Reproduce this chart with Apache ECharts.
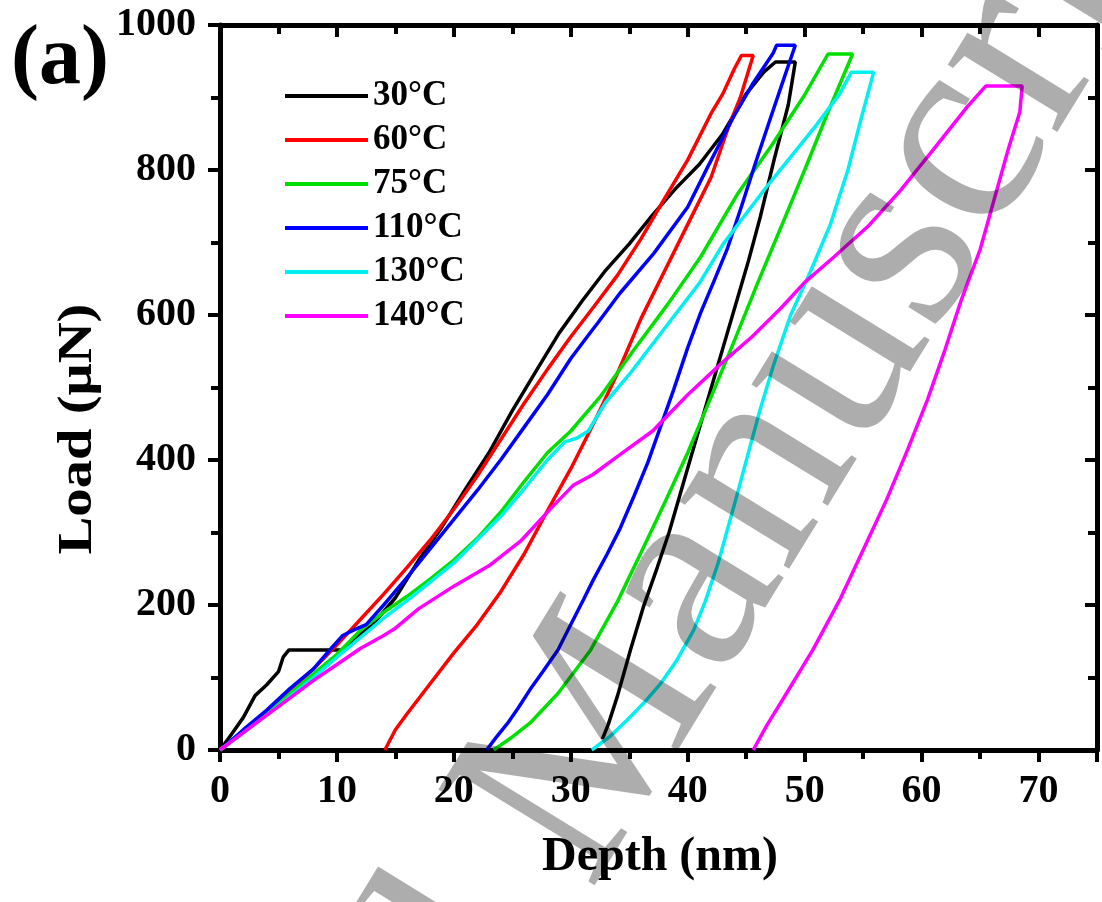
<!DOCTYPE html>
<html>
	<head>
		<meta charset="UTF-8">
		<title>Load-Depth</title>
		<script src="https://cdn.jsdelivr.net/npm/echarts@6/dist/echarts.min.js"></script>
		<style>
			body { margin: 0; background: #fff; }
		</style>
	</head>
	<body>
		<div id="main" style="width: 1102px;height:902px;"></div>

		<script type="text/javascript">
			var names = ['30°C', '60°C', '75°C', '110°C', '130°C', '140°C'];
			var colors = ['#000000', '#ff0000', '#00e000', '#0000ff', '#00f0f0', '#ff00ff'];

			// depth (nm) / load (uN), loading then hold then unloading
			var depth30 = [0, 1, 2, 3, 4, 5, 5.4, 5.9, 10.6, 11.7, 13, 15, 17, 19, 21, 23, 25, 27, 29, 31, 33, 35, 37, 39, 41, 43, 45, 46.5, 47.5, 49.2,
				48.6, 47.4, 46.2, 45.2, 44.2, 43.2, 42.2, 41.2, 40.2, 39.3, 38.4, 37.4, 36.2, 35.1, 34, 33.2, 32.7];
			var load30 = [0, 22, 45, 75, 90, 108, 128, 138, 138, 156, 172, 210, 262, 308, 360, 410, 468, 522, 575, 620, 662, 698, 738, 775, 808, 850, 905, 935, 949, 949,
				890, 815, 735, 675, 620, 565, 510, 455, 400, 350, 300, 252, 197, 138, 75, 35, 15];

			var depth60 = [0, 2, 4, 6, 8, 10, 12, 14, 16, 18, 20, 22, 24, 26, 28, 30, 32, 34, 36, 38, 40, 42, 43, 44, 44.6, 45.6,
				44.5, 43.5, 42, 40, 38, 36, 34, 32, 30, 28, 26, 24, 22, 20, 18, 16, 15, 14.1];
			var load60 = [0, 25, 52, 82, 112, 145, 180, 215, 252, 290, 332, 378, 428, 478, 525, 570, 612, 655, 705, 760, 814, 878, 905, 940, 958, 958,
				900, 860, 790, 725, 660, 595, 520, 452, 388, 330, 270, 218, 173, 134, 92, 50, 28, 0];

			var depth75 = [0, 2, 4, 6, 8, 10, 12, 14, 16, 18, 20, 22, 24, 26, 28, 30, 32.5, 35.4, 38.3, 41.1, 44.3, 47.1, 49.9, 52, 54.1,
				52, 50, 48, 46, 44, 42, 40, 38, 36, 34, 31.7, 28.9, 26.5, 25, 23.4];
			var load75 = [0, 24, 50, 78, 105, 132, 165, 190, 212, 236, 262, 292, 328, 370, 410, 440, 487, 552, 615, 680, 768, 832, 901, 960, 960,
				880, 800, 722, 645, 565, 487, 410, 340, 272, 205, 138, 78, 37, 18, 0];

			var depth110 = [0, 2, 4, 6, 8, 9.5, 10.5, 11.5, 12.5, 14, 16, 18, 20, 22, 24, 26, 28, 30, 31.4, 32.3, 34.2, 37.1, 40, 41.7, 43.9, 45.6, 47.3, 47.6, 49.2,
				48.2, 47, 45.8, 44.6, 43.4, 42.2, 41.1, 40, 38.8, 37.7, 36.6, 35.4, 34.2, 33.1, 31.9, 31.1, 30, 28.9, 27.6, 26.5, 25.5, 24.6, 23.6, 22.8];
			var load110 = [0, 28, 55, 85, 112, 140, 158, 166, 173, 200, 238, 278, 318, 358, 400, 445, 490, 540, 570, 589, 630, 685, 749, 804, 873, 920, 961, 972, 972,
				925, 868, 810, 750, 692, 645, 603, 555, 497, 447, 397, 350, 305, 270, 234, 208, 173, 138, 108, 83, 58, 37, 17, 0];

			var depth130 = [0, 2, 4, 6, 8, 10, 12, 14, 16, 18, 20, 22, 24, 26, 28, 29.5, 30.5, 31.5, 33, 35, 37, 39, 41, 43, 45, 47, 49, 51, 53, 54, 55.9,
				54.8, 53.7, 52.2, 50.5, 48.8, 47.3, 46.2, 45.1, 44.1, 42.6, 41.5, 40.5, 39, 37.7, 36.2, 34.8, 33.3, 31.8];
			var load130 = [0, 24, 48, 74, 100, 128, 155, 182, 206, 232, 258, 290, 322, 360, 400, 425, 430, 440, 480, 518, 560, 602, 644, 697, 740, 782, 822, 862, 905, 935, 935,
				869, 800, 725, 660, 600, 529, 470, 405, 345, 258, 205, 165, 122, 92, 64, 41, 18, 0];

			var depth140 = [0, 2, 4, 6, 8, 10, 12, 14, 15, 17, 20, 23, 25.7, 28.4, 30.2, 31.9, 34, 37, 40, 43, 45.5, 48, 50, 52.5, 55.4, 58.2, 61, 63.9, 65.5, 68.6,
				68.4, 67.4, 66.2, 65, 63.4, 62, 60.5, 58.8, 57, 55, 53, 50.7, 48.1, 46.8, 45.6];
			var load140 = [0, 24, 48, 72, 96, 118, 140, 158, 168, 195, 226, 254, 288, 335, 365, 380, 405, 440, 490, 535, 570, 610, 645, 680, 722, 772, 828, 887, 916, 916,
				880, 828, 759, 690, 621, 552, 483, 414, 345, 276, 207, 138, 69, 35, 0];

			var depths = [depth30, depth60, depth75, depth110, depth130, depth140];
			var loads = [load30, load60, load75, load110, load130, load140];

			var xTicks = [0, 10, 20, 30, 40, 50, 60, 70];
			var yTicks = [0, 200, 400, 600, 800, 1000];

			var serif = '"Liberation Serif", "Times New Roman", serif';

			function pairs(xs, ys) {
				var out = [];
				for(var i = 0; i < xs.length; i++) {
					out.push([xs[i], ys[i]]);
				}
				return out;
			}

			var series = [];
			for(var i = 0; i < names.length; i++) {
				series.push({
					name: names[i],
					type: 'line',
					xAxisIndex: 0,
					yAxisIndex: 0,
					data: pairs(depths[i], loads[i]),
					symbol: 'none',
					showSymbol: false,
					smooth: false,
					color: colors[i],
					lineStyle: { width: 3.5, color: colors[i] },
					z: 3
				});
			}

			var tickFont = { fontFamily: serif, fontWeight: 'bold', fontSize: 40, color: '#000' };
			var axisLine = { show: true, onZero: false, lineStyle: { color: '#000', width: 5 } };

			function baseAxis(extra) {
				var a = {
					type: 'value',
					axisLine: axisLine,
					splitLine: { show: false },
					axisTick: { show: true, length: 12, lineStyle: { color: '#000', width: 4 } },
					minorTick: { show: true, splitNumber: 2, length: 9, lineStyle: { color: '#000', width: 4 } }
				};
				for(var k in extra) a[k] = extra[k];
				return a;
			}

			option = {
				animation: false,
				backgroundColor: '#fff',
				grid: { left: 220, right: 5, top: 25, bottom: 152 },
				xAxis: [
					baseAxis({ position: 'bottom', min: 0, max: 75, interval: 10,
						axisLabel: Object.assign({ margin: 22, formatter: function(v) { return xTicks.indexOf(v) >= 0 ? v : ''; } }, tickFont) }),
					baseAxis({ position: 'top', min: 0, max: 75, interval: 10,
						axisLabel: { show: false },
						axisTick: { show: true, inside: true, length: 12, lineStyle: { color: '#000', width: 4 } },
						minorTick: { show: true, splitNumber: 2, length: 9, lineStyle: { color: '#000', width: 4 } } })
				],
				yAxis: [
					baseAxis({ position: 'left', min: 0, max: 1000, interval: 200,
						axisLabel: Object.assign({ margin: 24, formatter: function(v) { return yTicks.indexOf(v) >= 0 ? v : ''; } }, tickFont) }),
					baseAxis({ position: 'right', min: 0, max: 1000, interval: 200,
						axisLabel: { show: false },
						axisTick: { show: true, inside: true, length: 12, lineStyle: { color: '#000', width: 4 } },
						minorTick: { show: true, splitNumber: 2, length: 9, lineStyle: { color: '#000', width: 4 } } })
				],
				legend: {
					orient: 'vertical',
					left: 280,
					top: 72,
					icon: 'rect',
					itemWidth: 83,
					itemHeight: 4,
					itemGap: 6,
					data: names,
					textStyle: { fontFamily: serif, fontWeight: 'bold', fontSize: 35, color: '#000', lineHeight: 38, padding: [0, 0, 0, 0] }
				},
				graphic: [
					{ type: 'text', left: 11, top: 19, z: 50,
						style: { text: '(a)', font: 'bold 84px ' + serif, fill: '#000' } },
					{ type: 'text', x: 660, y: 858, z: 50,
						style: { text: 'Depth (nm)', font: 'bold 48px ' + serif, fill: '#000', textAlign: 'center', textVerticalAlign: 'middle' } },
					{ type: 'text', x: 79, y: 429, rotation: Math.PI / 2, scaleX: 1.18, z: 50,
						style: { text: 'Load (μN)', font: 'bold 48px ' + serif, fill: '#000', textAlign: 'center', textVerticalAlign: 'middle' } },
					{ type: 'group', x: 647, y: 927, rotation: 1.02, z: 100,
						children: [
							{ type: 'text', x: 0, y: 0, z: 100,
								style: { text: 'Manuscript', font: '280px ' + serif, fill: 'rgba(0,0,0,0.32)', textAlign: 'left', textVerticalAlign: 'bottom' } },
							{ type: 'text', x: -70, y: 0, z: 100,
								style: { text: 'Accepted', font: '280px ' + serif, fill: 'rgba(0,0,0,0.32)', textAlign: 'right', textVerticalAlign: 'bottom' } }
						] }
				],
				series: series
			};

			echarts.init(document.getElementById('main')).setOption(option);
		</script>
	</body>
</html>
